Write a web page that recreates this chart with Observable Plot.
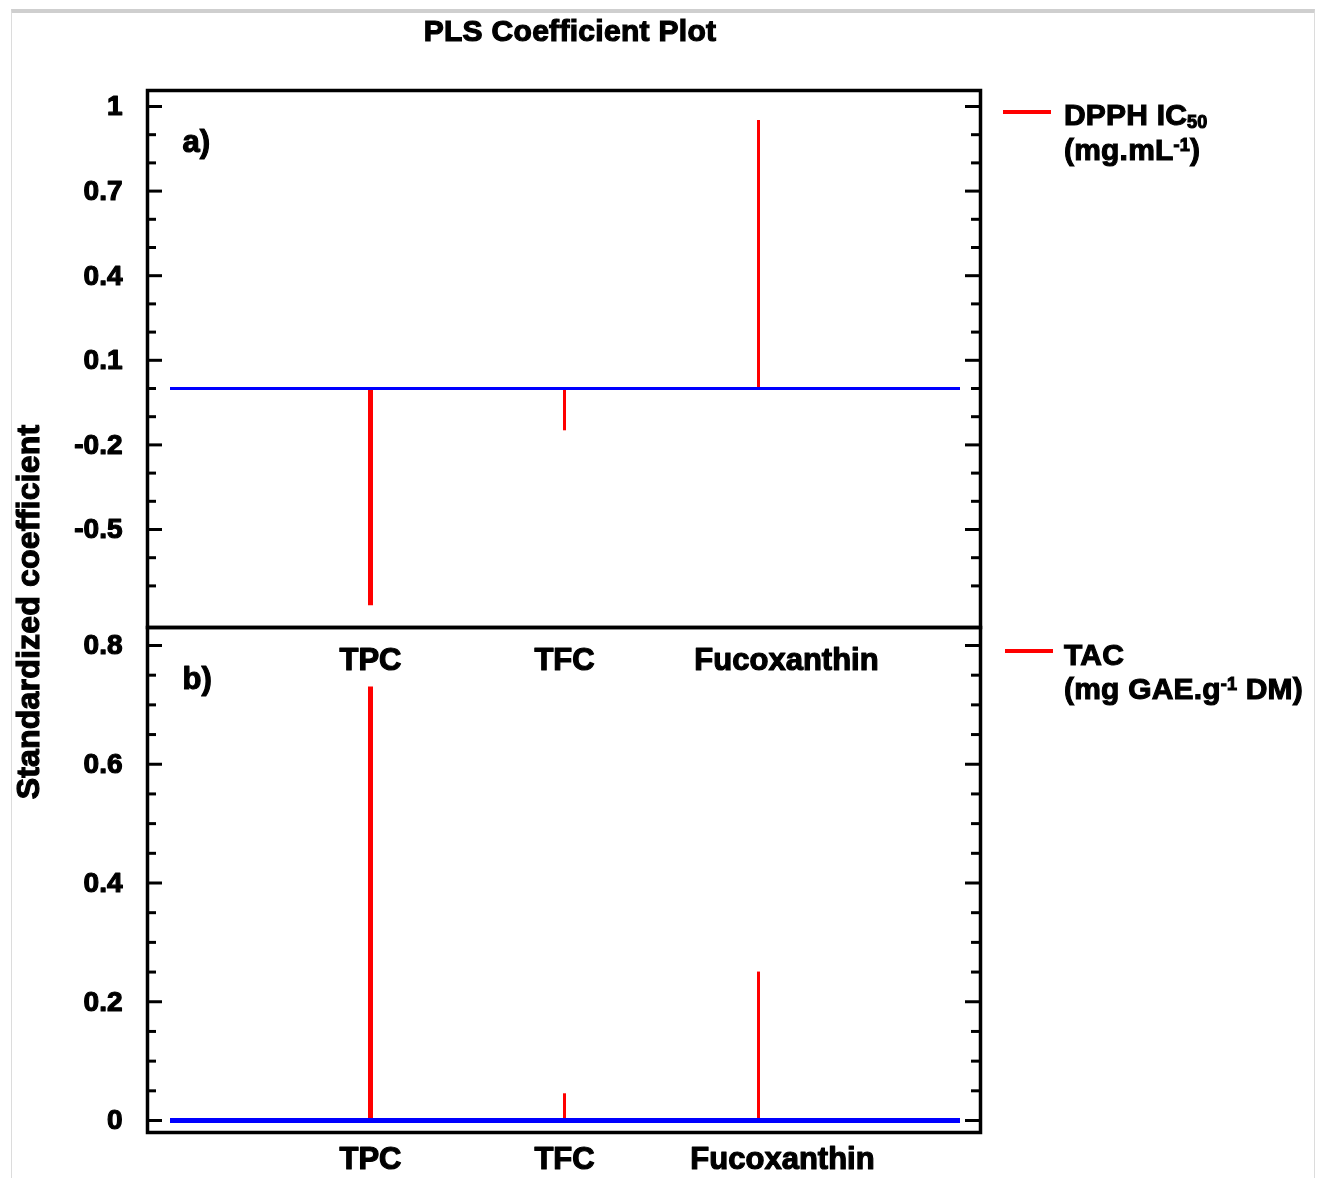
<!DOCTYPE html>
<html>
<head>
<meta charset="utf-8">
<script src="https://cdn.jsdelivr.net/npm/d3@7"></script>
<script src="https://cdn.jsdelivr.net/npm/@observablehq/plot@0.6"></script>
<style>
  body { margin: 0; background: #fff; }
  #wrap { position: relative; width: 1324px; height: 1178px; overflow: hidden;
          font-family: "Liberation Sans", Arial, sans-serif; font-weight: bold; color: #000;
          filter: blur(0.5px); }
  .abs { position: absolute; }
  #border { left: 11px; top: 9px; width: 1302px; height: 1200px;
            border-top: 4px solid #cfcfcf; border-left: 1px solid #dcdcdc; border-right: 1px solid #dcdcdc; }
  #title { left: 0; width: 1140px; top: 14px; text-align: center; font-size: 30px; letter-spacing: 0.3px;
           -webkit-text-stroke: 1.2px #000; }
  #ylabel { left: 28px; top: 612px; transform: translate(-50%, -50%) rotate(-90deg); white-space: nowrap;
            font-size: 32px; letter-spacing: 0.2px; -webkit-text-stroke: 1.2px #000; }
  .leg { font-size: 30px; line-height: 30px; letter-spacing: 0.2px; white-space: nowrap;
         -webkit-text-stroke: 1.1px #000; }
  .leg sub, .leg sup { font-size: 18px; line-height: 0; vertical-align: baseline; position: relative; }
  .leg sub { top: 3px; }
  .leg sup { top: -9px; }
  .legline { height: 4px; background: #ff0000; }
  svg.chart { position: absolute; left: 0; top: 0; }
</style>
</head>
<body>
<div id="wrap">
  <div id="border" class="abs"></div>
  <div id="title" class="abs">PLS Coefficient Plot</div>
  <div id="ylabel" class="abs">Standardized coefficient</div>
  <div class="abs legline" style="left:1003px;top:110px;width:48px;"></div>
  <div class="abs leg" style="left:1064px;top:100px;">DPPH IC<sub>50</sub></div>
  <div class="abs leg" style="left:1064px;top:135px;">(mg.mL<sup>-1</sup>)</div>
  <div class="abs legline" style="left:1005px;top:649px;width:48px;"></div>
  <div class="abs leg" style="left:1064px;top:640px;">TAC</div>
  <div class="abs leg" style="left:1064px;top:674px;">(mg GAE.g<sup>-1</sup> DM)</div>
</div>
<script>
// ---- data ----
const categories = ["TPC", "TFC", "Fucoxanthin"];
const dpphCoef = [-0.77, -0.15, 0.95];   // panel a) DPPH IC50
const tacCoef = [0.73, 0.045, 0.25];     // panel b) TAC
const dpphMajor = [-0.5, -0.2, 0.1, 0.4, 0.7, 1];
const dpphMinor = [-0.7, -0.6, -0.4, -0.3, -0.1, 0, 0.2, 0.3, 0.5, 0.6, 0.8, 0.9];
const tacMajor = [0, 0.2, 0.4, 0.6, 0.8];
const tacMinor = [0.05, 0.1, 0.15, 0.25, 0.3, 0.35, 0.45, 0.5, 0.55, 0.65, 0.7, 0.75];
const dpphDomain = [-0.8475, 1.0567];
const tacDomain = [-0.0202, 0.8303];

const dpph = categories.map((c, i) => ({cat: c, value: dpphCoef[i]}));
const tac = categories.map((c, i) => ({cat: c, value: tacCoef[i]}));

const FW = 833; // inner frame width
const font = {fontFamily: "Liberation Sans, Arial, sans-serif", fontWeight: "bold", fontSize: 28,
              stroke: "#000", strokeWidth: 1.2, fill: "#000"};
const fmt = d => d === 0 ? "0" : String(d);

function panel({data, domain, major, minor, height, marginTop, marginBottom, label, zeroWidth, fucoDx, labelDy}) {
  return Plot.plot({
    width: 1324, height, marginTop, marginBottom, marginLeft: 147, marginRight: 344,
    className: "chart",
    style: {background: "none", overflow: "visible"},
    x: {type: "point", domain: categories, padding: 1.136, axis: null},
    y: {domain, axis: null},
    marks: [
      Plot.ruleY(major, {stroke: "#000", strokeWidth: 3, insetRight: FW - 15}),
      Plot.ruleY(minor, {stroke: "#000", strokeWidth: 3, insetRight: FW - 9}),
      Plot.ruleY(major, {stroke: "#000", strokeWidth: 3, insetLeft: FW - 15}),
      Plot.ruleY(minor, {stroke: "#000", strokeWidth: 3, insetLeft: FW - 9}),
      Plot.frame({stroke: "#000", strokeWidth: 3.5}),
      Plot.ruleX(data, {x: "cat", y1: 0, y2: "value", stroke: "#ff0000",
                        strokeWidth: d => d.cat === "TPC" ? 5 : 3}),
      Plot.ruleY([0], {stroke: "#0000ff", strokeWidth: zeroWidth, insetLeft: 23, insetRight: 20}),
      Plot.text(major, {y: d => d, text: fmt, frameAnchor: "left", dx: -25, textAnchor: "end",
                        lineAnchor: "middle", ...font}),
      Plot.text([label], {frameAnchor: "top-left", dx: 35, dy: 52, textAnchor: "start",
                          lineAnchor: "middle", ...font, fontSize: 31}),
      Plot.text(categories.filter(c => c !== "Fucoxanthin"),
                {x: d => d, frameAnchor: "bottom", dy: labelDy, lineAnchor: "middle", ...font, fontSize: 31}),
      Plot.text(categories.filter(c => c === "Fucoxanthin"),
                {x: d => d, frameAnchor: "bottom", dy: labelDy, dx: fucoDx, lineAnchor: "middle", ...font, fontSize: 31})
    ]
  });
}

const wrap = document.getElementById("wrap");
wrap.appendChild(panel({data: dpph, domain: dpphDomain, major: dpphMajor, minor: dpphMinor,
  height: 700, marginTop: 90, marginBottom: 73, label: "a)", zeroWidth: 3, fucoDx: 28, labelDy: 33}));
wrap.appendChild(panel({data: tac, domain: tacDomain, major: tacMajor, minor: tacMinor,
  height: 1178, marginTop: 627, marginBottom: 46, label: "b)", zeroWidth: 5, fucoDx: 24, labelDy: 27}));
</script>
</body>
</html>
